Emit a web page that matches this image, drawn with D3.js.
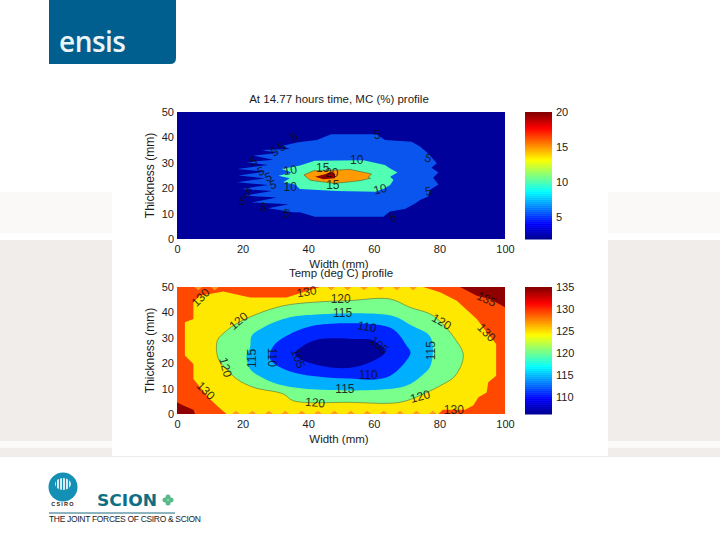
<!DOCTYPE html>
<html><head><meta charset="utf-8">
<script src="https://cdn.jsdelivr.net/npm/d3@7"></script>
<style>html,body{margin:0;padding:0;background:#fff}svg{display:block}text{font-family:"Liberation Sans",Arial,sans-serif}</style>
</head><body><svg id="c" width="720" height="540"></svg>
<script>
// ---- MC profile contour regions [width mm, thickness mm]
const mcLevel5 = [[47,41.2],[42.6,39],[37,38.1],[31.9,36.6],[34.5,35.4],[25.8,35],[30.9,33.9],[23.3,32.8],[29.4,31.2],[21.2,30.2],[27.8,29.1],[18.4,27.6],[26.8,26.5],[18.7,25],[26.8,23.9],[18.4,22.3],[27.8,21.3],[19.7,19.7],[28.9,18.9],[20.7,17.1],[30.4,16.3],[22.8,14.4],[34,13.7],[27.8,12.1],[35.5,10.5],[37.5,10.5],[42,8.8],[62.9,8.8],[64.9,10.8],[69.5,11.8],[72.6,14],[74.1,15.4],[76.6,16.7],[77.1,19.3],[79.7,21.5],[78.1,24.1],[79.7,26.2],[77.6,28.1],[79.2,29.8],[76.6,33.7],[74.1,36.4],[71.5,38.3],[63.4,39],[60.9,41.2]];
const mcLevel10 = [[42,30.8],[37.5,28.9],[31.9,27.6],[35,26.2],[30.9,24.9],[34.4,23.9],[32.4,22.3],[36,21.5],[37.5,19.7],[48.7,18.9],[60.4,18.6],[62.9,19.7],[65,21.3],[66,23.2],[65,24.5],[67.2,26.2],[65,27.8],[63.4,29.1],[56.8,31]];
const mcLevel15 = [[38.7,25.2],[41.6,26.9],[47,27],[52.7,27.4],[59.3,25.6],[58.3,24.3],[59,23.9],[55.8,23],[51.2,22.3],[47.7,21.9],[43.6,22.6],[40.5,23.2]];
const mcLevel20 = [[42.1,24.5],[45.1,25.5],[47.2,26.5],[48.2,25.6],[48.2,23.9],[44.6,23.5]];
// ---- Temp profile contour regions
const tCornerBL = [[0,4.6],[1.9,3.3],[5,1.7],[5.5,0],[0,0]];
const tCornerTR = [[86.3,50],[91.4,46.6],[95.4,45.3],[100,42],[100,50]];
const tLevel125 = [[7,46.6],[14.1,48.2],[22.3,45.9],[33.4,45.9],[41.6,49.2],[43.6,50],[75.1,50],[80.2,47.9],[85.3,44.6],[91.4,37.4],[94.4,32.2],[97.3,27.6],[97.3,15.1],[94.9,12.5],[94.4,8.5],[91.9,6.6],[90.3,3.3],[87.8,1.7],[81,1.7],[79.7,0],[15.1,0],[12.1,3.3],[10,5.9],[5,13.8],[5,19.7],[2.4,23],[2.4,36.1],[5,37.4],[5,44]];
const tLevel120 = [[12.3,28.9],[15.1,32.8],[18.2,35.6],[24.3,39.3],[32.4,42.6],[41.5,44],[52,44.6],[64.9,45.3],[71,42],[78.1,38.7],[84.8,29.5],[87.3,23],[84.8,15],[81.2,11.8],[75.1,7.9],[68,4.6],[52.7,4.6],[35.5,5.2],[32.4,7.9],[23.3,10.5],[18.2,13.8],[15.1,17.7],[12.6,21.7]];
const tLevel115 = [[22.8,30.8],[26.3,34.1],[32.4,37.4],[37.5,38.7],[65.5,38.7],[71.5,34.8],[77.3,30.2],[77.3,19],[74.6,15.1],[70,11.2],[62.4,9.6],[42.6,9.6],[32.4,11.2],[26.8,13.8],[22.3,17.7],[21.2,23],[22.3,26.2]];
const tLevel110 = [[28.4,24.3],[29.9,27.6],[34.5,31.5],[42.6,35],[61.9,35],[66.5,32.8],[70,26.9],[71.2,24.3],[69.5,20.3],[65,15.1],[59.9,13.5],[54.8,13.8],[45.6,14.4],[37.5,15.7],[31.4,18.4],[28.4,21.7]];
const tLevel105 = [[36,23.6],[38.5,26.9],[43.6,29.5],[54.8,29.5],[59.9,28.9],[63.4,24.3],[59.9,21],[53.8,18.4],[48,18.2],[41.6,19.7],[37.5,21.7]];
const tTopNotchX = [47,52,57,62,67,72,6.5,11.5];
const tBottomNotchX = [18,23,28,33,38,43,48,53,58,63,68,73,78];
// ---- contour labels [text, width, thickness, rotation]
const mcLabels = [["5",35.7,40.3,-30],["5",31.9,36.4,-30],["5",29.7,34.4,-30],["5",23.3,30.7,-20],["5",25.5,26.8,-20],["5",27.8,24.5,-20],["5",29.2,21.5,-15],["10",34.5,27.2,-10],["10",34.5,20.6,0],["15",44.4,28.1,0],["20",47.2,26.2,0],["15",47.5,21.5,0],["10",54.8,31.1,0],["5",61.1,41.2,0],["5",21.7,18.4,20],["5",20,15,20],["5",26.3,12.7,20],["5",33.4,10.1,10],["10",61.9,19.7,-15],["5",76.6,32,20],["5",76.6,18.9,-10],["5",65.8,8.5,-20]];
const tLabels = [["130",7.2,45.9,-45],["130",39.5,48.2,-10],["120",49.9,45.3,0],["115",50.5,40,0],["120",18.7,36.7,-40],["110",58,34.5,10],["105",61.7,27.2,40],["115",22.8,21.9,-90],["110",29.2,22.3,90],["105",37,21.9,70],["120",14.9,18.4,75],["110",58.3,15.4,0],["115",51.2,10.1,0],["120",42.1,4.6,5],["130",8.8,9.2,45],["120",80.7,36.4,30],["135",94.4,45.3,25],["130",94.4,32.2,45],["115",77.3,24.9,-90],["120",74.1,7,-15],["130",84.4,1.7,0]];
const xTicks = [0,20,40,60,80,100];
const yTicks = [0,10,20,30,40,50];
const mcBarTicks = [5,10,15,20];
const tBarTicks = [110,115,120,125,130,135];
const mcBarDomain = [1.86,20];
const tBarDomain = [106,135];
const jetPos = [0,0.125,0.375,0.625,0.875,1];
const jetCol = ["#00008f","#0000ff","#00ffff","#ffff00","#ff0000","#800000"];

const svg = d3.select("#c");
const jet = d3.scaleLinear().domain(jetPos).range(jetCol);

// ---- page background
[[0,192,720,41,"#faf9f7"],[0,240,720,201,"#f0edea"],[0,441,720,7,"#fbfaf8"],[0,448,720,8,"#f0edea"],[112,85,496,371,"#ffffff"],[0,456,720,1,"#ececec"]]
  .forEach(r=>svg.append("rect").attr("x",r[0]).attr("y",r[1]).attr("width",r[2]).attr("height",r[3]).attr("fill",r[4]));

const TXT="#1c1c1c";
function panel(o){
  const x=d3.scaleLinear().domain([0,100]).range([177,505]);
  const y=d3.scaleLinear().domain([0,50]).range([o.bottom,o.top]);
  const line=d3.line().x(d=>x(d[0])).y(d=>y(d[1])).curve(d3.curveLinearClosed);
  const smooth=d3.line().x(d=>x(d[0])).y(d=>y(d[1])).curve(d3.curveCatmullRomClosed.alpha(.5));
  const g=svg.append("g");
  g.append("rect").attr("x",x(0)).attr("y",y(50)).attr("width",x(100)-x(0)).attr("height",y(0)-y(50)).attr("fill",o.base);
  o.regions.forEach(r=>{
    const p=g.append("path").attr("d",(r.smooth?smooth:line)(r.pts)).attr("fill",r.fill);
    if(r.stroke) p.attr("stroke",r.stroke).attr("stroke-width",.6);
  });
  (o.extra||[]).forEach(fn=>fn(g,x,y,line));
  o.labels.forEach(l=>{
    g.append("text").attr("transform",`translate(${x(l[1])},${y(l[2])}) rotate(${l[3]})`)
      .attr("text-anchor","middle").attr("dy","0.36em").attr("font-size",12).attr("fill","#111").attr("opacity",.85).text(l[0]);
  });
  const ax=svg.append("g").attr("transform",`translate(0,${o.bottom+6})`).call(d3.axisBottom(x).tickValues(xTicks).tickSize(0).tickPadding(0));
  const ay=svg.append("g").attr("transform","translate(174,0)").call(d3.axisLeft(y).tickValues(yTicks).tickSize(0).tickPadding(0));
  [ax,ay].forEach(a=>{a.select(".domain").remove();a.selectAll("text").attr("font-size",11).attr("fill",TXT).style("font-family",'"Liberation Sans"');});
  svg.append("text").attr("x",339).attr("y",o.bottom+29).attr("text-anchor","middle").attr("font-size",11.5).attr("fill",TXT).text("Width (mm)");
  svg.append("text").attr("transform",`translate(154,${(o.top+o.bottom)/2}) rotate(-90)`).attr("text-anchor","middle").attr("font-size",12).attr("fill",TXT).text("Thickness (mm)");
  svg.append("text").attr("x",o.titleX).attr("y",o.titleY).attr("text-anchor","middle").attr("font-size",11.5).attr("fill",TXT).text(o.title);
  // colorbar
  const c=d3.scaleLinear().domain(o.barDomain).range([o.bottom,o.top]);
  const n=64, cells=d3.range(n);
  svg.append("g").selectAll("rect").data(cells).join("rect")
    .attr("x",525).attr("width",27)
    .attr("y",i=>c(o.barDomain[0]+(i+1)/n*(o.barDomain[1]-o.barDomain[0])))
    .attr("height",(o.bottom-o.top)/n+.5)
    .attr("fill",i=>jet((i+.5)/n));
  const ac=svg.append("g").attr("transform","translate(556,0)").call(d3.axisRight(c).tickValues(o.barTicks).tickSize(0).tickPadding(0));
  ac.select(".domain").remove();
  ac.selectAll("text").attr("font-size",11).attr("fill",TXT).style("font-family",'"Liberation Sans"');
}

panel({top:112,bottom:239,base:"#00009a",title:"At 14.77 hours time, MC (%) profile",titleX:339,titleY:103,
  regions:[{pts:mcLevel5,fill:"#0a55ee"},{pts:mcLevel10,fill:"#50ffb4"},{pts:mcLevel15,fill:"#ff9a00",stroke:"#5a5a20"},{pts:mcLevel20,fill:"#8f0000"}],
  labels:mcLabels,barDomain:mcBarDomain,barTicks:mcBarTicks});

function notches(xs,edge,sign,fill){
  return (g,x,y,line)=>xs.forEach(v=>{
    g.append("path").attr("d",line([[v-1.2,edge],[v,edge+sign*1.3],[v+1.2,edge]])).attr("fill",fill);
  });
}
panel({top:287,bottom:414,base:"#ff4800",title:"Temp (deg C) profile",titleX:341,titleY:277,
  regions:[{pts:tCornerBL,fill:"#8f0000"},{pts:tCornerTR,fill:"#8f0000"},{pts:tLevel125,fill:"#ffe800"},{pts:tLevel120,fill:"#78ff8c",stroke:"#556b3a",smooth:true},{pts:tLevel115,fill:"#00b0ff",smooth:true},{pts:tLevel110,fill:"#0024ff",smooth:true},{pts:tLevel105,fill:"#00009a",smooth:true}],
  extra:[notches(tTopNotchX,50,-1,"#ff9a20"),notches(tBottomNotchX,0,1,"#ff9a20")],
  labels:tLabels,barDomain:tBarDomain,barTicks:tBarTicks});

// ---- ensis logo
svg.append("path").attr("d","M49,0H176V58Q176,64 170,64H49Z").attr("fill","#005f8e");
svg.append("text").attr("x",59).attr("y",52).attr("font-size",28).attr("font-weight",600).attr("fill","#eaf3f6").style("font-family","'Open Sans'").attr("textLength",67).text("ensis");

// ---- CSIRO logo
svg.append("circle").attr("cx",63).attr("cy",487).attr("r",14.5).attr("fill","#1590b5");
svg.append("ellipse").attr("cx",63).attr("cy",484).attr("rx",8).attr("ry",6).attr("fill","#d6ecf2");
d3.range(5).forEach(i=>svg.append("rect").attr("x",56+i*3).attr("y",478).attr("width",1).attr("height",12).attr("fill","#1590b5"));
svg.append("text").attr("x",63).attr("y",506).attr("text-anchor","middle").attr("font-size",5.5).attr("font-weight",700).attr("letter-spacing",1.2).attr("fill","#222").text("CSIRO");
// ---- SCION logo
svg.append("text").attr("x",97).attr("y",506).attr("font-size",16.5).attr("font-weight",700).attr("textLength",60).attr("lengthAdjust","spacingAndGlyphs").attr("fill","#0f6f82").style("font-family","'DejaVu Sans'").text("SCION");
[[168,497],[168,503],[165,500],[171,500]].forEach(p=>svg.append("circle").attr("cx",p[0]).attr("cy",p[1]).attr("r",2.5).attr("fill","#58b98a"));
svg.append("line").attr("x1",49).attr("x2",175).attr("y1",513).attr("y2",513).attr("stroke","#1a6a80").attr("stroke-width",1);
svg.append("text").attr("x",49).attr("y",522).attr("font-size",8.5).attr("textLength",152).attr("fill","#222").text("THE JOINT FORCES OF CSIRO & SCION");
</script></body></html>
